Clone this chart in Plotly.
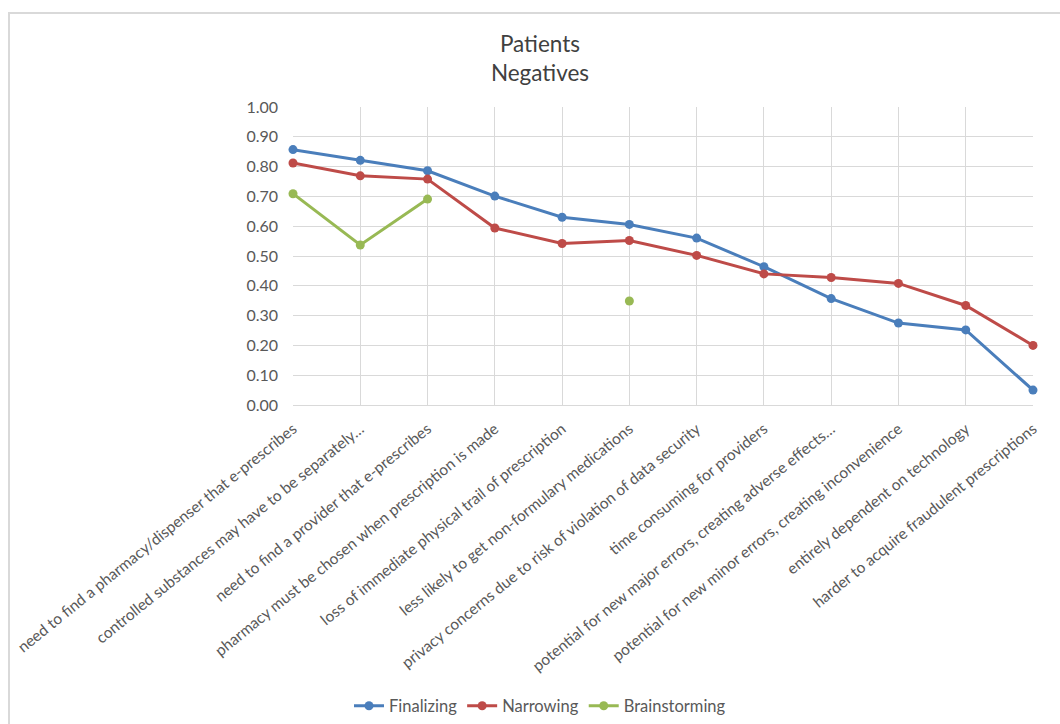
import plotly.graph_objects as go

# Category labels (x axis)
categories = [
    "need to find a pharmacy/dispenser that e-prescribes",
    "controlled substances may have to be separately…",
    "need to find a provider that e-prescribes",
    "pharmacy must be chosen when prescription is made",
    "loss of immediate physical trail of prescription",
    "less likely to get non-formulary medications",
    "privacy concerns due to risk of violation of data security",
    "time consuming for providers",
    "potential for new major errors, creating adverse effects…",
    "potential for new minor errors, creating inconvenience",
    "entirely dependent on technology",
    "harder to acquire fraudulent prescriptions",
]

# Series values
finalizing = [0.857, 0.821, 0.786, 0.701, 0.630, 0.606, 0.560, 0.464, 0.357, 0.275, 0.252, 0.050]
narrowing = [0.812, 0.769, 0.758, 0.594, 0.542, 0.552, 0.502, 0.440, 0.428, 0.408, 0.334, 0.200]
brainstorming = [0.709, 0.537, 0.691, None, None, 0.349, None, None, None, None, None, None]

y_ticks = [0.0, 0.1, 0.2, 0.3, 0.4, 0.5, 0.6, 0.7, 0.8, 0.9, 1.0]

series = [
    ("Finalizing", finalizing, "#4a7ebb"),
    ("Narrowing", narrowing, "#be4b48"),
    ("Brainstorming", brainstorming, "#98b954"),
]

FONT = "Lato, Open Sans, sans-serif"

fig = go.Figure()
for name, vals, color in series:
    fig.add_trace(go.Scatter(
        x=categories, y=vals, name=name, mode="lines+markers",
        line=dict(color=color, width=3),
        marker=dict(color=color, size=9),
        connectgaps=False, cliponaxis=False,
    ))

# Geometry of the plotting region in pixels
W, H = 1060, 724
L, R, T, B = 293, 27, 107, 319
pw, ph = W - L - R, H - T - B

def px_x(x):
    return (x - L) / pw

def px_y(y):
    return (H - B - y) / ph

fig.update_layout(
    width=W, height=H,
    margin=dict(l=L, r=R, t=T, b=B, autoexpand=False),
    paper_bgcolor="white", plot_bgcolor="white",
    font=dict(family=FONT, color="#595959"),
    title=dict(
        text="Patients<br>Negatives",
        x=540 / W, xanchor="center", y=1 - 52 / H, yanchor="middle",
        font=dict(size=22.5, color="#404040", family=FONT),
    ),
    showlegend=True,
    legend=dict(
        orientation="h",
        xref="container", x=540 / W, xanchor="center",
        yref="container", y=1 - 706 / H, yanchor="middle",
        bgcolor="rgba(0,0,0,0)",
        font=dict(size=16.5, color="#595959", family=FONT),
        itemwidth=30, tracegroupgap=0,
    ),
    xaxis=dict(
        type="category",
        range=[0, len(categories) - 1],
        tickangle=-39,
        tickfont=dict(size=15.5, color="#595959", family=FONT),
        showgrid=True, gridcolor="#d9d9d9", gridwidth=1,
        showline=True, linecolor="#d9d9d9", linewidth=1,
        ticks="", ticklabelstandoff=8, automargin=False,
    ),
    yaxis=dict(
        range=[0, 1.0],
        tickvals=y_ticks,
        tickformat=".2f",
        tickfont=dict(size=16, color="#595959", family=FONT),
        showgrid=True, gridcolor="#d9d9d9", gridwidth=1,
        zeroline=False, showline=False,
        ticks="", ticklabelstandoff=14, automargin=False,
    ),
    shapes=[
        dict(
            type="rect", xref="paper", yref="paper",
            x0=px_x(9), x1=px_x(1075), y0=px_y(13), y1=px_y(740),
            line=dict(color="#d9d9d9", width=2), fillcolor="rgba(0,0,0,0)",
            layer="below",
        )
    ],
)

fig.write_html("out.html")
